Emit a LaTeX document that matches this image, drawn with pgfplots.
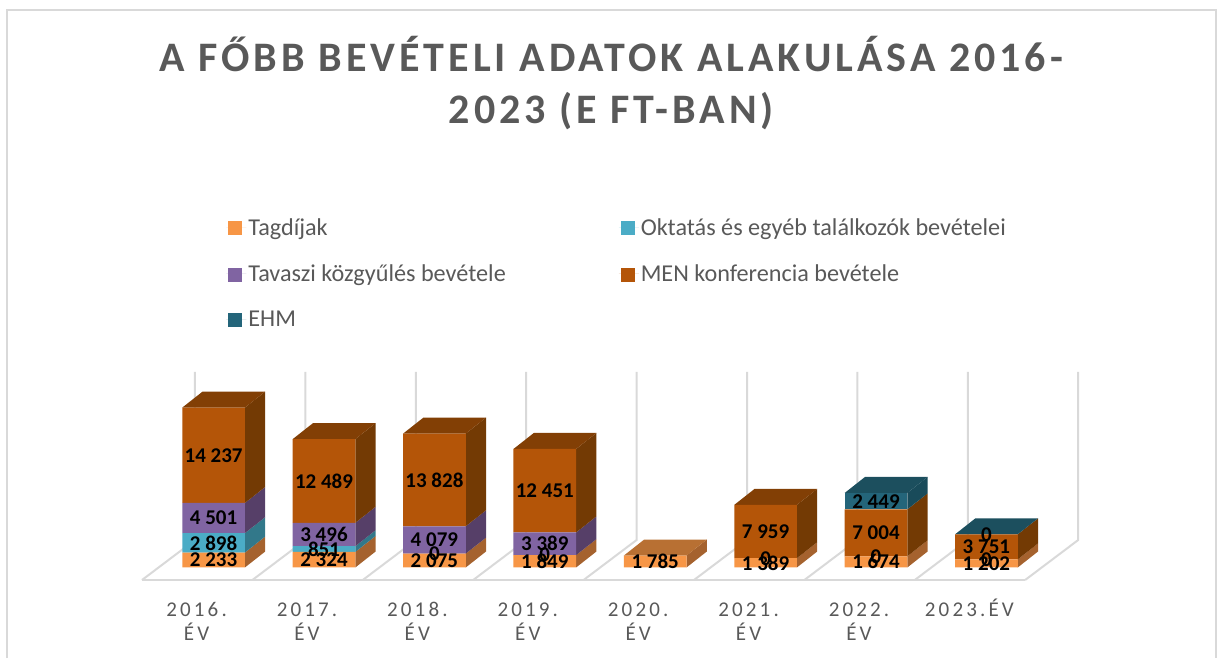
\documentclass[border=0pt]{standalone}
\usepackage{pgfplots}
\usepackage{fontspec}
\pgfplotsset{compat=1.18}
\setmainfont{Carlito}
\newfontfamily\titlefont[LetterSpace=9.5]{Carlito}
\newfontfamily\tickfont[LetterSpace=15]{Carlito}
\definecolor{txt}{HTML}{595959}
\definecolor{gridc}{HTML}{D9D9D9}
\definecolor{cT}{HTML}{F79646}
\definecolor{cO}{HTML}{4BACC6}
\definecolor{cV}{HTML}{8064A2}
\definecolor{cM}{HTML}{B45508}
\definecolor{cE}{HTML}{24657A}
\definecolor{sT}{HTML}{A5622E}
\definecolor{sO}{HTML}{32788A}
\definecolor{sV}{HTML}{563F68}
\definecolor{sM}{HTML}{733A04}
\definecolor{sE}{HTML}{194B5A}
\definecolor{tT}{HTML}{B87033}
\definecolor{tM}{HTML}{823F05}
\definecolor{tE}{HTML}{1C4F5E}
\pgfplotsset{canvas/.style={
  scale only axis,width=1219pt,height=658pt,
  xmin=-1.9348,xmax=9.107,ymin=-13507,ymax=84699,clip=false}}
% side face of a stack segment: category, lower value, upper value, colour
\newcommand{\sidef}[4]{%
  \pgfmathsetmacro\xa{#1+0.2836}\pgfmathsetmacro\xb{#1+0.4676}%
  \edef\tmp{\noexpand\addplot[fill=#4,draw=none,mark=none,forget plot] coordinates {(\xa,#2)(\xb,\the\numexpr#2+2388\relax)(\xb,\the\numexpr#3+2388\relax)(\xa,#3)(\xa,#2)};}\tmp}
% top face: category, value, colour
\newcommand{\topf}[3]{%
  \pgfmathsetmacro\xa{#1-0.2836}\pgfmathsetmacro\xb{#1+0.2836}%
  \pgfmathsetmacro\xc{#1-0.0996}\pgfmathsetmacro\xd{#1+0.4676}%
  \edef\tmp{\noexpand\addplot[fill=#3,draw=none,mark=none,forget plot] coordinates {(\xa,#2)(\xb,#2)(\xd,\the\numexpr#2+2388\relax)(\xc,\the\numexpr#2+2388\relax)(\xa,#2)};}\tmp}
\begin{document}
\begin{tikzpicture}
\begin{axis}[canvas,
  axis x line=bottom,axis y line=left,axis line style={draw=none},
  ytick=\empty,xtick={0,1,2,3,4,5,6,7},major tick length=0pt,
  xticklabels={{2016.\\ÉV},{2017.\\ÉV},{2018.\\ÉV},{2019.\\ÉV},{2020.\\ÉV},{2021.\\ÉV},{2022.\\ÉV},{2023.\kern3.15pt\smash{É}\kern3.15pt V\\~}},
  xticklabel style={font=\tickfont\fontsize{21}{24}\selectfont,text=txt,align=center,yshift=59pt,xshift=-17pt},
  title={A FŐBB BEVÉTELI ADATOK ALAKULÁSA 2016-\\2023 (E FT-BAN)},
  title style={font=\titlefont\bfseries\fontsize{42}{52}\selectfont,text=txt,align=center,at={(0.5015,0.9368)},anchor=north,inner sep=0pt,yshift=0pt},
]
% chart frame
\addplot[gridc,line width=2pt,mark=none] coordinates {(-1.871,-13507)(-1.871,83210)(9.084,83210)(9.084,-13507)};
% floor and back wall
\addplot[gridc,line width=2.2pt,mark=none] coordinates {(-0.6486,-1866)(7.351,-1866)};
\addplot[gridc,line width=2pt,mark=none] coordinates {(-0.6486,-1866)(-0.1685,4104)(-0.1685,29178)};
\addplot[gridc,line width=2pt,mark=none] coordinates {(0.3514,-1866)(0.8315,4104)(0.8315,29178)};
\addplot[gridc,line width=2pt,mark=none] coordinates {(1.3514,-1866)(1.8315,4104)(1.8315,29178)};
\addplot[gridc,line width=2pt,mark=none] coordinates {(2.3514,-1866)(2.8315,4104)(2.8315,29178)};
\addplot[gridc,line width=2pt,mark=none] coordinates {(3.3514,-1866)(3.8315,4104)(3.8315,29178)};
\addplot[gridc,line width=2pt,mark=none] coordinates {(4.3514,-1866)(4.8315,4104)(4.8315,29178)};
\addplot[gridc,line width=2pt,mark=none] coordinates {(5.3514,-1866)(5.8315,4104)(5.8315,29178)};
\addplot[gridc,line width=2pt,mark=none] coordinates {(6.3514,-1866)(6.8315,4104)(6.8315,29178)};
\addplot[gridc,line width=2pt,mark=none] coordinates {(7.351,-1866)(7.8315,4104)(7.8315,29178)};
% side faces
\sidef{0}{0}{2233}{sT}\sidef{0}{2233}{5131}{sO}\sidef{0}{5131}{9632}{sV}\sidef{0}{9632}{23869}{sM}\topf{0}{23869}{tM}
\sidef{1}{0}{2324}{sT}\sidef{1}{2324}{3175}{sO}\sidef{1}{3175}{6671}{sV}\sidef{1}{6671}{19160}{sM}\topf{1}{19160}{tM}
\sidef{2}{0}{2075}{sT}\sidef{2}{2075}{6154}{sV}\sidef{2}{6154}{19982}{sM}\topf{2}{19982}{tM}
\sidef{3}{0}{1849}{sT}\sidef{3}{1849}{5238}{sV}\sidef{3}{5238}{17689}{sM}\topf{3}{17689}{tM}
\sidef{4}{0}{1785}{sT}\topf{4}{1785}{tT}
\sidef{5}{0}{1389}{sT}\sidef{5}{1389}{9348}{sM}\topf{5}{9348}{tM}
\sidef{6}{0}{1674}{sT}\sidef{6}{1674}{8678}{sM}\sidef{6}{8678}{11127}{sE}\topf{6}{11127}{tE}
\sidef{7}{0}{1202}{sT}\sidef{7}{1202}{4953}{sM}\topf{7}{4953}{tE}
\end{axis}
\begin{axis}[canvas,hide axis,ybar stacked,bar width=62.7pt,
  legend columns=2,
  legend style={at={(axis cs:0.114,52460)},anchor=north west,draw=none,fill=none,
    font=\fontsize{24.2}{29}\selectfont,text=txt,
    /tikz/every even column/.append style={column sep=111pt},
    row sep=24pt,inner sep=0pt},
  legend cell align=left,
  legend image code/.code={\fill[#1] (2pt,-8pt) rectangle (16pt,6pt);\path (0pt,0pt)--(20pt,0pt);},
]
\addplot[fill=cT,draw=none] coordinates {(0,2233)(1,2324)(2,2075)(3,1849)(4,1785)(5,1389)(6,1674)(7,1202)};
\addplot[fill=cO,draw=none] coordinates {(0,2898)(1,851)(2,0)(3,0)(4,0)(5,0)(6,0)(7,0)};
\addplot[fill=cV,draw=none] coordinates {(0,4501)(1,3496)(2,4079)(3,3389)(4,0)(5,0)(6,0)(7,0)};
\addplot[fill=cM,draw=none] coordinates {(0,14237)(1,12489)(2,13828)(3,12451)(4,0)(5,7959)(6,7004)(7,3751)};
\addplot[fill=cE,draw=none] coordinates {(0,0)(1,0)(2,0)(3,0)(4,0)(5,0)(6,2449)(7,0)};
\legend{Tagdíjak,Oktatás és egyéb találkozók bevételei,Tavaszi közgyűlés bevétele,MEN konferencia bevétele,EHM}
\end{axis}
\begin{axis}[canvas,hide axis]
\addplot[draw=none,mark=none,nodes near coords,point meta=explicit symbolic,
  nodes near coords align={center},
  every node near coord/.append style={font=\bfseries\fontsize{21}{21}\selectfont,text=black,inner sep=0pt}]
coordinates {
(0,1116)[2 233] (0,3682)[2 898] (0,7381)[4 501] (0,16750)[14 237]
(1,1162)[2 324] (1,2750)[851] (1,4923)[3 496] (1,12915)[12 489]
(2,1037)[2 075] (2,2075)[0] (2,4114)[4 079] (2,13068)[13 828]
(3,924)[1 849] (3,1849)[0] (3,3543)[3 389] (3,11463)[12 451]
(4,892)[1 785]
(5,694)[1 389] (5,1389)[0] (5,5368)[7 959]
(6,837)[1 674] (6,1674)[0] (6,5176)[7 004] (6,9902)[2 449]
(7,601)[1 202] (7,1202)[0] (7,3077)[3 751] (7,4953)[0]
};
\end{axis}
\end{tikzpicture}
\end{document}
